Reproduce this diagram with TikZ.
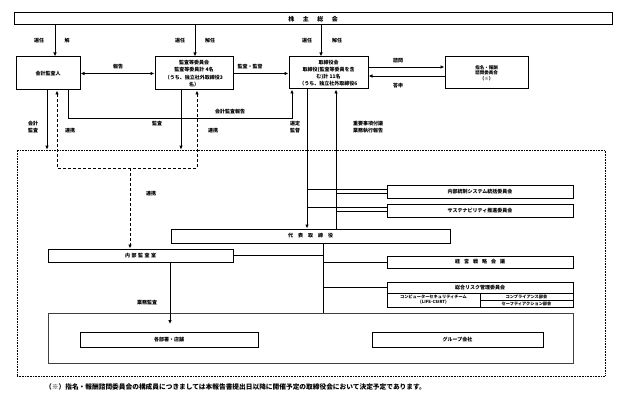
\documentclass[tikz,border=0pt]{standalone}
\usepackage{fontspec}
\setmainfont{Noto Sans CJK JP}
\usetikzlibrary{arrows.meta}
\tikzset{
  bx/.style={draw, line width=1pt, fill=white, inner sep=0pt, align=center, font=\bfseries\fontsize{5}{7.2}\selectfont},
  tbx/.style={draw, line width=0.4pt, inner sep=0pt, align=center, font=\bfseries\fontsize{4.2}{5.2}\selectfont},
  lb/.style={inner sep=0pt, align=center, font=\bfseries\fontsize{5}{6.8}\selectfont},
  ar/.style={line width=0.9pt, -{Latex[length=4pt,width=3.5pt]}},
  dar/.style={line width=0.9pt, dash pattern=on 3pt off 2pt},
  ln/.style={line width=0.9pt},
  brln/.style={line width=0.6pt},
}
\begin{document}
\begin{tikzpicture}[x=1pt,y=-1pt]
\useasboundingbox (0,0) rectangle (620,393);
% outer dotted region and inner box
\node[draw, densely dotted, line width=0.6pt, minimum width=588pt, minimum height=226pt, inner sep=0pt] (db) at (311,263) {};
\node[draw, line width=0.5pt, black!75, minimum width=525pt, minimum height=50pt, inner sep=0pt] (ib) at (310.5,338) {};

% boxes
\node[bx, minimum width=598pt, minimum height=12pt, font=\bfseries\fontsize{6}{7}\selectfont] (sh) at (313,19) {株\hspace{8.5pt}主\hspace{8.5pt}総\hspace{8.5pt}会};
\node[bx, minimum width=64pt, minimum height=33pt] (ka) at (48,73.5) {会計監査人};
\node[bx, minimum width=78pt, minimum height=33pt] (ki) at (194,73.5) {監査等委員会\\監査等委員計 4名\\（うち、独立社外取締役3\\名）};
\node[bx, minimum width=79pt, minimum height=32pt] (tb) at (328.5,73) {取締役会\\取締役(監査等委員を含\\む)計 11名\\（うち、独立社外取締役6};
\node[bx, minimum width=83pt, minimum height=32pt, font=\bfseries\fontsize{4.5}{5.5}\selectfont] (sm) at (486.5,73) {指名・報酬\\諮問委員会\\（※）};
\node[bx, minimum width=186pt, minimum height=13pt] (nt) at (480,191.5) {内部統制システム統括委員会};
\node[bx, minimum width=186pt, minimum height=13pt] (su) at (480,210.5) {サステナビリティ推進委員会};
\node[bx, minimum width=279pt, minimum height=14pt] (dh) at (310.5,236) {代\hspace{5pt}表\hspace{5pt}取\hspace{5pt}締\hspace{5pt}役};
\node[bx, minimum width=185pt, minimum height=13pt] (nk) at (140.5,255.5) {内\hspace{1.5pt}部\hspace{1.5pt}監\hspace{1.5pt}査\hspace{1.5pt}室};
\node[bx, minimum width=186pt, minimum height=12pt] (ks) at (480,262) {経\hspace{4pt}営\hspace{4pt}戦\hspace{4pt}略\hspace{4pt}会\hspace{4pt}議};
\node[bx, minimum width=186pt, minimum height=11pt] (sr) at (480,287.5) {総合リスク管理委員会};
\node[tbx, minimum width=93pt, minimum height=14pt] (cs) at (433.5,300) {コンピューターセキュリティチーム\\(LIFE-CSIRT)};
\node[tbx, minimum width=93pt, minimum height=7pt] (cp) at (526.5,296.5) {コンプライアンス部会};
\node[tbx, minimum width=93pt, minimum height=7pt] (sa) at (526.5,303.5) {セーフティアクション部会};
\node[bx, minimum width=178pt, minimum height=15pt] (bs) at (169,339.5) {各部署・店舗};
\node[bx, minimum width=171pt, minimum height=15pt] (gp) at (457.5,339.5) {グループ会社};

% x/y helper coordinates
\coordinate (a1) at (55,0);
\coordinate (a2) at (195,0);
\coordinate (a3) at (321,0);
\coordinate (c1) at (47,0);
\coordinate (c2) at (181,0);
\coordinate (d1) at (57,168);
\coordinate (d2) at (197,168);
\coordinate (dm) at (130,168);
\coordinate (r1) at (68,118);
\coordinate (r2) at (292,118);
\coordinate (v1) at (307,189);
\coordinate (v2) at (336,193);
\coordinate (w1) at (307,207);
\coordinate (w2) at (336,211);
\coordinate (v3) at (323,0);
\coordinate (k1) at (170,324);
\coordinate (s1) at (0,67);
\coordinate (s2) at (0,76);

% from shareholders meeting
\draw[ar] (sh.south -| a1) -- (ka.north -| a1);
\draw[ar] (sh.south -| a2) -- (ki.north -| a2);
\draw[ar] (sh.south -| a3) -- (tb.north -| a3);

% horizontal links
\draw[ln, {Latex[length=4pt,width=3.5pt]}-{Latex[length=4pt,width=3.5pt]}] (ka.east) -- (ki.west);
\draw[ar] (ki.east) -- (tb.west |- ki.east);
\draw[ar] (tb.east |- s1) -- (sm.west |- s1);
\draw[ar] (sm.west |- s2) -- (tb.east |- s2);

% audits downward
\draw[ar] (ka.south -| c1) -- (db.north -| c1);
\draw[ar] (ki.south -| c2) -- (db.north -| c2);
\draw[ar] (ka.south -| r1) -- (r1) -- (r2) -- (tb.south -| r2);

% dashed cooperation
\draw[dar, {Latex[length=4pt,width=3.5pt]}-{Latex[length=4pt,width=3.5pt]}] (ka.south -| d1) -- (d1) -- (d2) -- (ki.south -| d2);
\draw[dar, -{Latex[length=4pt,width=3.5pt]}] (dm) -- (nk.north -| dm);

% board <-> representative director
\draw[ar] (tb.south -| v1) -- (dh.north -| v1);
\draw[ar] (dh.north -| v2) -- (tb.south -| v2);
\draw[brln] (v1) -- (nt.west |- v1);
\draw[brln] (v2) -- (nt.west |- v2);
\draw[brln] (w1) -- (su.west |- w1);
\draw[brln] (w2) -- (su.west |- w2);

% representative director downward
\draw[ln] (dh.south -| v3) -- (ib.north -| v3);
\draw[brln] (ks.west -| v3) -- (ks.west);
\draw[brln] (sr.west -| v3) -- (sr.west);
\draw[brln] (nk.east) -- (nk.east -| v3);
\draw[ar] (nk.south -| k1) -- (k1);

% labels
\node[lb] (l1) at (39,41) {選任};
\node[lb] (l2) at (67,41) {解};
\node[lb] (l3) at (180,41) {選任};
\node[lb] (l4) at (210,41) {解任};
\node[lb] (l5) at (307,41) {選任};
\node[lb] (l6) at (337,41) {解任};
\node[lb] (l7) at (118,67) {報告};
\node[lb] (l8) at (250,67) {監査・監督};
\node[lb] (l9) at (398,61) {諮問};
\node[lb] (l10) at (398,86) {答申};
\node[lb] (l11) at (230,112) {会計監査報告};
\node[lb] (l12) at (33,127) {会計\\監査};
\node[lb] (l13) at (70,131) {連携};
\node[lb] (l14) at (157,124) {監査};
\node[lb] (l15) at (213,131) {連携};
\node[lb] (l16) at (295,127) {選定\\監督};
\node[lb] (l17) at (368,127.5) {重要事項付議\\業務執行報告};
\node[lb] (l18) at (151,194) {連携};
\node[lb] (l19) at (147,303) {業務監査};
\node[lb, anchor=west, font=\bfseries\fontsize{6.7}{8}\selectfont] (fn) at (45,387) {（※）指名・報酬諮問委員会の構成員につきましては本報告書提出日以降に開催予定の取締役会において決定予定であります。};
\end{tikzpicture}
\end{document}
